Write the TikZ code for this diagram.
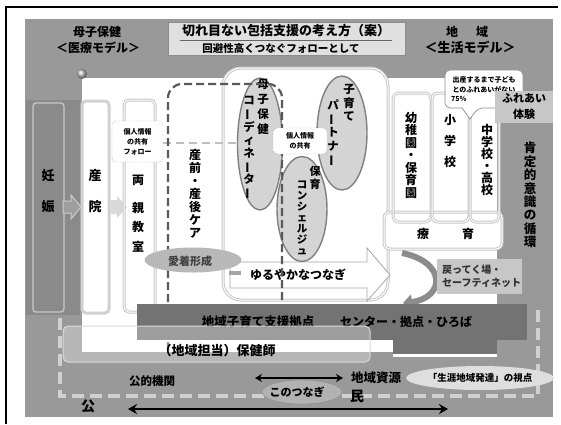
\documentclass[tikz,border=0pt]{standalone}
\usepackage{fontspec}
\setmainfont{Noto Sans CJK JP}
\usepackage{graphicx}
\usetikzlibrary{arrows.meta,shapes.geometric}
\newcommand{\vl}{\rotatebox[origin=c]{90}{ー}}
\newcommand{\fs}[2]{\fontsize{#1}{#2}\selectfont}
\tikzset{
  lbl/.style={inner sep=0pt, align=center, font=\fs{12}{14}\bfseries},
  vt/.style={inner sep=0pt, align=center},
  dbl/.style={draw=black!22, double=white, double distance=1pt, line width=1pt},
  oval/.style={ellipse, fill=black!17, draw=black!50, line width=1.4pt, inner sep=0pt},
  dotbox/.style={draw=black!55, densely dotted, fill=white, rounded corners=4pt, inner sep=0pt, align=center, font=\fs{7}{10}\bfseries},
  arr/.style={-{Stealth[length=8pt,width=9pt]}, line width=1.8pt},
}
\begin{document}
\begin{tikzpicture}[x=1pt,y=-1pt]
\useasboundingbox (0,0) rectangle (561,424);
\fill[white] (0,0) rectangle (561,424);
\fill[black!40] (25,19) rectangle (553,417);
\draw[line width=1.3pt] (6,424) -- (6,7) -- (558,7);

% headers
\node[lbl] (mh1) at (97,32) {母子保健};
\node[lbl] (mh2) at (98,48) {＜医療モデル＞};
\node[lbl] (ch1) at (467,32) {地\hspace{1.5em}域};
\node[lbl, font=\fs{13}{15}\bfseries] (ch2) at (470,47) {＜生活モデル＞};

% title
\node[draw=black!45, fill=black!12, minimum width=237pt, minimum height=33pt, inner sep=0pt] (title) at (286.5,38.5) {};
\node[inner sep=0pt, font=\fs{13}{15}\bfseries] (t1) at (286,31) {切れ目ない包括支援の考え方（案）};
\draw[black!60, line width=0.8pt] (180,40) -- (392,40);
\node[inner sep=0pt, font=\fs{10.5}{12}\bfseries] (t2) at (281,48) {回避性高くつなぐフォローとして};

% left pregnancy column
\fill[black!46] (26,100) rectangle (80,315);
\draw[black!22, line width=1.3pt, rounded corners=3pt] (33,103) rectangle (64,312);
\node[lbl, font=\fs{13}{15}\bfseries] (nin1) at (48,176) {妊};
\node[lbl, font=\fs{13}{15}\bfseries] (nin2) at (48,207) {娠};

% white panel
\fill[white] (82,78) rectangle (497,352);
\shade[ball color=black!25] (82,74) circle (5pt);

% hospital column
\draw[black!18, line width=3pt, rounded corners=4pt] (82,101) rectangle (109,313);
\node[lbl, font=\fs{13}{15}\bfseries] (in1) at (95,176) {産};
\node[lbl, font=\fs{13}{15}\bfseries] (in2) at (95,207) {院};
\filldraw[fill=black!38, draw=black!20, line width=1pt] (63,201) -- (71,201) -- (71,195) -- (81,207) -- (71,219) -- (71,213) -- (63,213) -- cycle;
\fill[black!15] (110,200) -- (117,200) -- (117,196) -- (127,207) -- (117,218) -- (117,214) -- (110,214) -- cycle;

% parents class
\draw[dbl, rounded corners=5pt] (124,100) rectangle (155,312);
\node[lbl] (ry1) at (138,180) {両};
\node[lbl] (ry2) at (138,208) {親};
\node[lbl] (ry3) at (138,227) {教};
\node[lbl] (ry4) at (138,247) {室};

% middle group
\draw[dbl, fill=white, rounded corners=18pt] (223,68) rectangle (388,300);

% gray dashed info line
\draw[black!25, line width=2pt, dash pattern=on 8pt off 5pt] (163,143) -- (273,143);

% sanzen text
\node[vt, font=\fs{12}{13}\bfseries] (sanzen) at (195,194) {産\\前\\・\\産\\後\\ケ\\ア};

% arrow yuruyaka
\filldraw[fill=white, draw=black!35, line width=0.8pt] (230,262) -- (367,262) -- (367,248) -- (390,275) -- (367,301) -- (367,288) -- (230,288) -- cycle;
\fill[black!35] (229,271) rectangle (241,275);
\node[lbl] (yuru) at (298,275) {ゆるやかなつなぎ};

% ellipses
\node[oval, minimum width=45pt, minimum height=132pt] (e1) at (260,144) {};
\node[vt, font=\fs{11.5}{15}\bfseries] (e1a) at (263,107) {母\\子\\保\\健};
\node[vt, font=\fs{11.5}{12.9}\bfseries] (e1b) at (249,148) {コ\\\vl\\デ\\ィ\\ネ\\\vl\\タ\\\vl};
\node[oval, minimum width=50pt, minimum height=114pt] (e2) at (342,133) {};
\node[vt, font=\fs{11.5}{13.5}\bfseries] (e2a) at (349,103) {子\\育\\て};
\node[vt, font=\fs{11.5}{13.7}\bfseries] (e2b) at (333,133) {パ\\\vl\\ト\\ナ\\\vl};
\node[oval, minimum width=50pt, minimum height=105pt] (e3) at (302,209) {};
\node[vt, font=\fs{11}{13}\bfseries] (e3a) at (315,178) {保\\育};
\node[vt, font=\fs{10.5}{11}\bfseries] (e3b) at (302,218) {コ\\ン\\シ\\ェ\\ル\\ジ\\ュ};

% big dashed care frame
\draw[black!65, line width=2.2pt, dash pattern=on 8pt off 4pt, rounded corners=14pt] (168,350) -- (168,84) -- (282,84) -- (282,304);

% attachment ellipse
\node[ellipse, fill=black!28, minimum width=97pt, minimum height=25pt, inner sep=0pt] (ai) at (193,260) {};
\node[lbl, font=\fs{11}{13}\bfseries, text=black!75] (ait) at (190,261) {愛着形成};

% info callouts
\node[dotbox, minimum width=51pt, minimum height=41pt] (c1) at (137.5,141.5) {個人情報\\の共有\\フォロー};
\node[dotbox, minimum width=54pt, minimum height=26pt] (c2) at (300,141) {個人情報\\の共有};

% right group: school columns
\draw[dbl, fill=white, rounded corners=6pt] (384,212) rectangle (502,249);
\draw[dbl, rounded corners=6pt] (393,93) rectangle (431,222);
\draw[dbl, rounded corners=6pt] (432,93) rectangle (469,222);
\draw[dbl, rounded corners=6pt] (470,93) rectangle (499,222);
\node[vt, font=\fs{12}{12.5}\bfseries] (s1) at (411,155) {幼\\稚\\園\\・\\保\\育\\園};
\node[vt, font=\fs{12}{21}\bfseries] (s2) at (450,141) {小\\学\\校};
\node[vt, font=\fs{12}{12}\bfseries] (s3) at (487,160) {中\\学\\校\\・\\高\\校};
\node[lbl] (ry) at (423,234) {療};
\node[lbl] (ik) at (468,234) {育};

% birth callout
\draw[fill=white, draw=black!45, line width=0.7pt, rounded corners=5pt] (445,70) -- (523,70) -- (523,108) -- (478,108) [sharp corners] -- (470,119) -- (462,108) [rounded corners=5pt] -- (445,108) -- cycle;
\node[inner sep=0pt, font=\fs{7}{8}\bfseries] (b1) at (484,80) {出産するまで子ども};
\node[inner sep=0pt, font=\fs{7}{8}\bfseries] (b2) at (484,90) {とのふれあいがない};
\node[inner sep=0pt, font=\fs{7}{8}\bfseries, anchor=west] (b3) at (451,99) {75\%};

% fureai
\node[fill=black!22, minimum width=58pt, minimum height=32pt, inner sep=0pt, align=center, font=\fs{11}{16}\bfseries] (fu) at (524,107) {ふれあい\\体験};
\node[vt, font=\fs{12.5}{13.4}\bfseries] (kotei) at (530,195) {肯\\定\\的\\意\\識\\の\\循\\環};

% return arrow and box
\draw[black!45, line width=6pt, -{Triangle[length=9pt,width=15pt]}] (402,253) .. controls (447,262) and (445,298) .. (403,303);
\node[fill=black!22, minimum width=85pt, minimum height=35pt, inner sep=0pt, anchor=north west] (mo) at (437,259) {};
\node[inner sep=0pt, font=\fs{10}{13}\bfseries, align=left, anchor=west, text=black!80] (mot) at (442,276.5) {戻ってく場・\\セーフティネット};

% dark bar
\fill[black!55] (137,304) rectangle (527,340);
\fill[black!55] (393,340) rectangle (497,354);
\fill[white] (393,354) rectangle (497,357);
\node[lbl, font=\fs{12.5}{14}\bfseries] (chiiki) at (258,322) {地域子育て支援拠点};
\node[lbl, font=\fs{12}{14}\bfseries] (center) at (406,322) {センター・拠点・ひろば};

% public health nurse
\draw[black!15, line width=1pt, fill=white, fill opacity=0.3, rounded corners=5pt] (63,326) rectangle (370,362);
\node[lbl, font=\fs{13}{15}\bfseries] (hoken) at (217,351) {（地域担当）保健師};

% public/private dashed frame
\draw[black!18, line width=4pt, dash pattern=on 12pt off 6pt] (60,318) -- (60,396) -- (538,396) -- (538,305);

% bottom labels and arrows
\node[lbl, font=\fs{11.5}{13}\bfseries] (kouteki) at (152,381) {公的機関};
\node[lbl, font=\fs{12.5}{14}\bfseries] (shigen) at (376,378) {地域資源};
\coordinate (sa) at (255,378);
\coordinate (sb) at (343,378);
\draw[line width=1.4pt, {Stealth[length=7pt,width=8pt]}-{Stealth[length=7pt,width=8pt]}] (sa) -- (sb);
\node[ellipse, draw=black!45, fill=black!30, minimum width=80pt, minimum height=24pt, inner sep=0pt] (tsunagi) at (302,392) {};
\node[lbl, font=\fs{11}{13}\bfseries] (tsunagit) at (297,392) {このつなぎ};
\node[ellipse, fill=black!13, minimum width=120pt, minimum height=24pt, inner sep=0pt, font=\fs{9.5}{11}\bfseries] (shogai) at (480,378) {「生涯地域発達」の視点};
\node[lbl, font=\fs{14}{16}\bfseries] (ko) at (88,406) {公};
\node[lbl, font=\fs{14}{16}\bfseries] (min) at (357,396) {民};
\coordinate (la) at (128,409);
\coordinate (lb) at (448,409);
\draw[line width=1.8pt, {Stealth[length=9pt,width=10pt]}-{Stealth[length=9pt,width=10pt]}] (la) -- (lb);
\end{tikzpicture}
\end{document}
